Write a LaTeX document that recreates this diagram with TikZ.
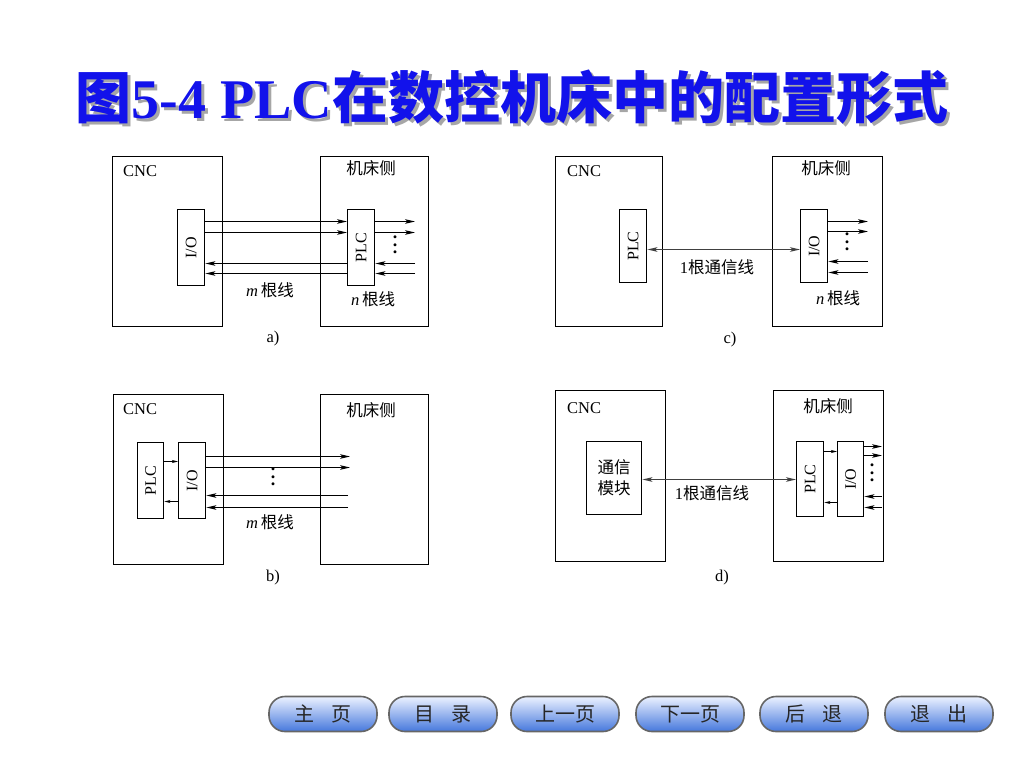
\documentclass[tikz,border=0pt]{standalone}
\usepackage{fontspec}
\usepackage{graphicx}
\setmainfont{Liberation Serif}
\newfontfamily\cjk{Noto Sans CJK SC}
\usetikzlibrary{arrows.meta,calc}
\definecolor{titleblue}{RGB}{18,18,235}
\definecolor{btntop}{RGB}{236,242,255}
\definecolor{btnbot}{RGB}{70,120,220}
\begin{document}
\begin{tikzpicture}[x=1pt,y=-1pt,
  box/.style={draw,line width=1.4pt,inner sep=0pt,anchor=north west,font=\fontsize{16}{18}\selectfont},
  lbl/.style={inner sep=0pt,font=\fontsize{16.5}{19}\selectfont},
  cj/.style={inner sep=0pt,font=\cjk\fontsize{16.5}{19}\selectfont},
  vd/.style={inner sep=0pt,align=center,font=\bfseries\fontsize{18}{7.5}\selectfont},
  arr/.style={line width=1pt,-{Stealth[length=10pt,width=4.6pt,inset=2.5pt]}},
  sarr/.style={line width=0.9pt,-{Stealth[length=6pt,width=3pt,inset=1.5pt]}},
  darr/.style={line width=1.4pt,draw=black!75,{Stealth[length=10pt,width=4.6pt,inset=2.5pt]}-{Stealth[length=10pt,width=4.6pt,inset=2.5pt]}},
  ttl/.style={inner sep=0pt,font=\fontsize{56}{60}\selectfont\bfseries},
  btn/.style={draw=black!60,line width=1.6pt,rounded corners=16pt,minimum width=108pt,minimum height=35pt,
    top color=btntop,bottom color=btnbot,text=black!85,font=\cjk\fontsize{20}{22}\selectfont}
]
\useasboundingbox[fill=white] (0,0) rectangle (1024,768);

% ---------- title ----------
\node[ttl,text=black!35] (tshadow) at (515,100) {{\cjk\bfseries 图}5-4 PLC{\cjk\bfseries 在数控机床中的配置形式}};
\node[ttl,text=titleblue] (title) at (512,97) {{\cjk\bfseries 图}5-4 PLC{\cjk\bfseries 在数控机床中的配置形式}};

% ---------- panel a ----------
\node[box,minimum width=110pt,minimum height=170pt] (cncA) at (112,156) {};
\node[box,minimum width=108pt,minimum height=170pt] (mA) at (320,156) {};
\node[box,minimum width=27pt,minimum height=76pt] (ioA) at (177,209) {\rotatebox{90}{I/O}};
\node[box,minimum width=27pt,minimum height=76pt] (plcA) at (347,209) {\rotatebox{90}{PLC}};
\node[lbl,anchor=west] (cncAt) at (123,171) {CNC};
\node[cj] (mAt) at (371,168) {机床侧};
\node[lbl] (mlinesA) at (270,290) {\textit{m}\,{\cjk 根线}};
\node[lbl] (nlinesA) at (373,299) {\textit{n}\,{\cjk 根线}};
\node[lbl] (capA) at (273,339) {a)};
\node[vd] (dotsA) at (395,245) {.\\.\\.};
\coordinate (a1) at (415,221.5);
\coordinate (a2) at (415,232.5);
\coordinate (a3) at (415,263.5);
\coordinate (a4) at (415,273.5);
\draw[arr] (ioA.east |- a1) -- (plcA.west |- a1);
\draw[arr] (ioA.east |- a2) -- (plcA.west |- a2);
\draw[arr] (plcA.west |- a3) -- (ioA.east |- a3);
\draw[arr] (plcA.west |- a4) -- (ioA.east |- a4);
\draw[arr] (plcA.east |- a1) -- (a1);
\draw[arr] (plcA.east |- a2) -- (a2);
\draw[arr] (a3) -- (plcA.east |- a3);
\draw[arr] (a4) -- (plcA.east |- a4);

% ---------- panel b ----------
\node[box,minimum width=110pt,minimum height=170pt] (cncB) at (113,394) {};
\node[box,minimum width=108pt,minimum height=170pt] (mB) at (320,394) {};
\node[box,minimum width=26pt,minimum height=76pt] (plcB) at (137,442) {\rotatebox{90}{PLC}};
\node[box,minimum width=27pt,minimum height=76pt] (ioB) at (178,442) {\rotatebox{90}{I/O}};
\node[lbl,anchor=west] (cncBt) at (123,409) {CNC};
\node[cj] (mBt) at (371,410) {机床侧};
\node[lbl] (mlinesB) at (270,522) {\textit{m}\,{\cjk 根线}};
\node[lbl] (capB) at (273,578) {b)};
\node[vd] (dotsB) at (273,477) {.\\.\\.};
\coordinate (b1) at (350,456.5);
\coordinate (b2) at (350,467.5);
\coordinate (b3) at (348,495.5);
\coordinate (b4) at (348,507.5);
\coordinate (b5) at (170,461.5);
\coordinate (b6) at (170,501.5);
\draw[arr] (ioB.east |- b1) -- (b1);
\draw[arr] (ioB.east |- b2) -- (b2);
\draw[arr] (b3) -- (ioB.east |- b3);
\draw[arr] (b4) -- (ioB.east |- b4);
\draw[sarr] (plcB.east |- b5) -- (ioB.west |- b5);
\draw[sarr] (ioB.west |- b6) -- (plcB.east |- b6);

% ---------- panel c ----------
\node[box,minimum width=107pt,minimum height=170pt] (cncC) at (555,156) {};
\node[box,minimum width=110pt,minimum height=170pt] (mC) at (772,156) {};
\node[box,minimum width=27pt,minimum height=73pt] (plcC) at (619,209) {\rotatebox{90}{PLC}};
\node[box,minimum width=27pt,minimum height=73pt] (ioC) at (800,209) {\rotatebox{90}{I/O}};
\node[lbl,anchor=west] (cncCt) at (567,171) {CNC};
\node[cj] (mCt) at (826,168) {机床侧};
\node[lbl] (commC) at (717,267) {1{\cjk 根通信线}};
\node[lbl] (nlinesC) at (838,298) {\textit{n}\,{\cjk 根线}};
\node[lbl] (capC) at (730,340) {c)};
\node[vd] (dotsC) at (847,242) {.\\.\\.};
\coordinate (c0) at (720,249.5);
\coordinate (c1) at (868,221.5);
\coordinate (c2) at (868,231.5);
\coordinate (c3) at (868,261.5);
\coordinate (c4) at (868,272.5);
\draw[darr] (plcC.east |- c0) -- (ioC.west |- c0);
\draw[arr] (ioC.east |- c1) -- (c1);
\draw[arr] (ioC.east |- c2) -- (c2);
\draw[arr] (c3) -- (ioC.east |- c3);
\draw[arr] (c4) -- (ioC.east |- c4);

% ---------- panel d ----------
\node[box,minimum width=110pt,minimum height=171pt] (cncD) at (555,390) {};
\node[box,minimum width=110pt,minimum height=171pt] (mD) at (773,390) {};
\node[box,minimum width=55pt,minimum height=73pt,align=center,font=\cjk\fontsize{16.5}{21}\selectfont] (comD) at (586,441) {通信\\模块};
\node[box,minimum width=27pt,minimum height=75pt] (plcD) at (796,441) {\rotatebox{90}{PLC}};
\node[box,minimum width=26pt,minimum height=75pt] (ioD) at (837,441) {\rotatebox{90}{I/O}};
\node[lbl,anchor=west] (cncDt) at (567,408) {CNC};
\node[cj] (mDt) at (828,406) {机床侧};
\node[lbl] (commD) at (712,493) {1{\cjk 根通信线}};
\node[lbl] (capD) at (722,578) {d)};
\node[vd] (dotsD) at (872,473) {.\\.\\.};
\coordinate (d0) at (720,479.5);
\coordinate (d1) at (882,446.5);
\coordinate (d2) at (882,455.5);
\coordinate (d3) at (882,496.5);
\coordinate (d4) at (882,507.5);
\coordinate (d5) at (830,451.5);
\coordinate (d6) at (830,502.5);
\draw[darr] (comD.east |- d0) -- (plcD.west |- d0);
\draw[sarr] (plcD.east |- d5) -- (ioD.west |- d5);
\draw[sarr] (ioD.west |- d6) -- (plcD.east |- d6);
\draw[arr] (ioD.east |- d1) -- (d1);
\draw[arr] (ioD.east |- d2) -- (d2);
\draw[arr] (d3) -- (ioD.east |- d3);
\draw[arr] (d4) -- (ioD.east |- d4);

% ---------- buttons ----------
\node[btn] (home) at (323,714) {主\hspace{0.9em}页};
\node[btn] (toc)  at (443,714) {目\hspace{0.9em}录};
\node[btn] (prev) at (565,714) {上一页};
\node[btn] (next) at (690,714) {下一页};
\node[btn] (back) at (814,714) {后\hspace{0.9em}退};
\node[btn] (quit) at (939,714) {退\hspace{0.9em}出};
\end{tikzpicture}
\end{document}
